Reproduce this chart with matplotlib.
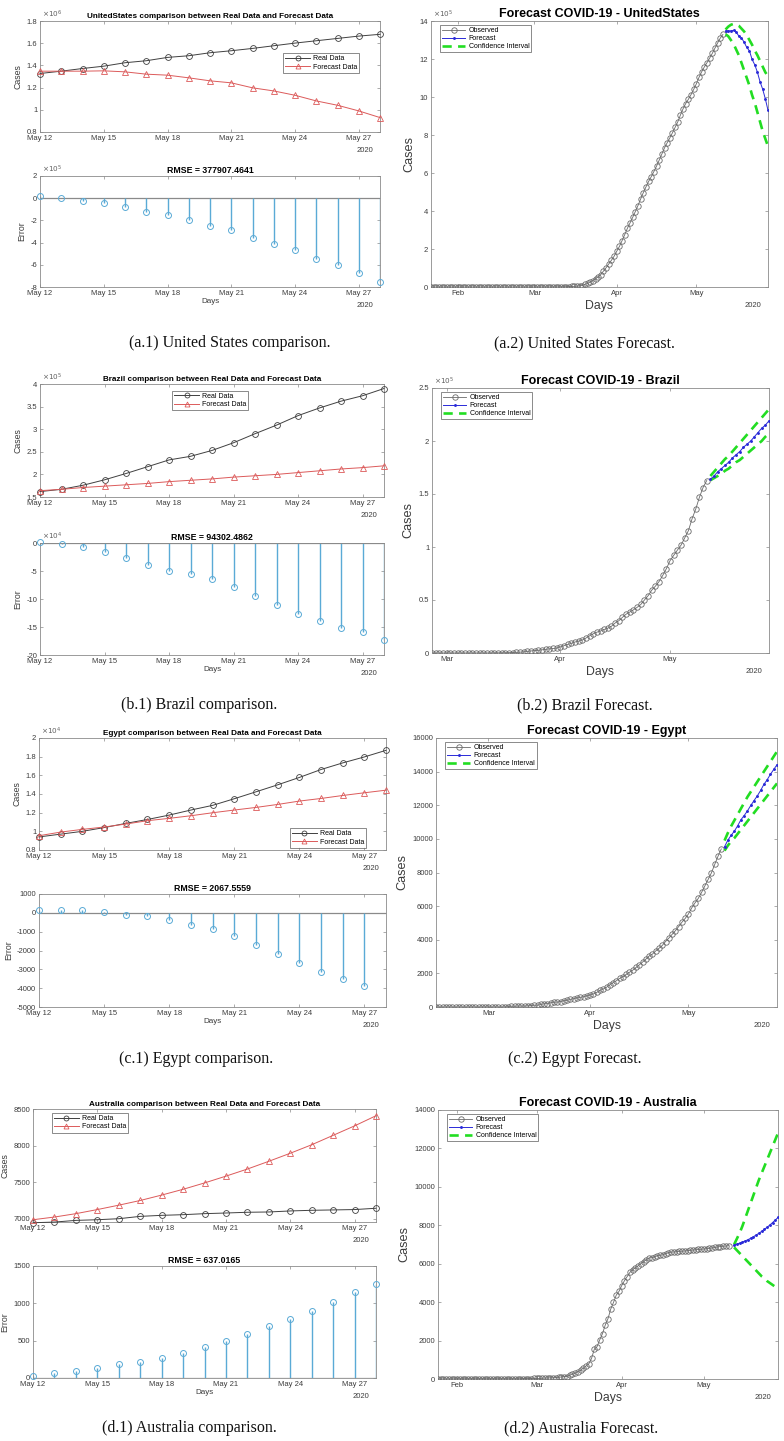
import numpy as np
import pandas as pd
import matplotlib
matplotlib.use('Agg')
import matplotlib.pyplot as plt
import matplotlib.dates as mdates
from matplotlib.ticker import FixedLocator, FuncFormatter

plt.rcParams['font.family'] = ['Liberation Sans', 'DejaVu Sans']

# ---------------------------------------------------------------- data
cmp_start = '2020-05-12'
fc_start = '2020-05-12'
x_end = '2020-05-28'

# United States comparison
us_real = [1.327e6, 1.348e6, 1.372e6, 1.393e6, 1.424e6, 1.442e6, 1.472e6, 1.487e6, 1.514e6,
           1.532e6, 1.553e6, 1.577e6, 1.601e6, 1.622e6, 1.643e6, 1.664e6, 1.680e6]
us_fc = [1.348e6, 1.348e6, 1.348e6, 1.351e6, 1.342e6, 1.321e6, 1.312e6, 1.288e6, 1.261e6,
         1.243e6, 1.198e6, 1.170e6, 1.131e6, 1.080e6, 1.041e6, 0.990e6, 0.930e6]
us_err = [0.17e5, 0.05e5, -0.25e5, -0.43e5, -0.8e5, -1.25e5, -1.55e5, -2.0e5, -2.5e5,
          -2.9e5, -3.55e5, -4.15e5, -4.7e5, -5.45e5, -6.05e5, -6.75e5, -7.55e5]
us_rmse = '377907.4641'

# Brazil comparison
br_real = [1.62e5, 1.67e5, 1.76e5, 1.88e5, 2.02e5, 2.17e5, 2.32e5, 2.40e5, 2.53e5,
           2.70e5, 2.90e5, 3.09e5, 3.30e5, 3.47e5, 3.62e5, 3.74e5, 3.90e5]
br_fc = [1.64e5, 1.67e5, 1.71e5, 1.74e5, 1.77e5, 1.80e5, 1.84e5, 1.87e5, 1.90e5,
         1.94e5, 1.97e5, 2.00e5, 2.04e5, 2.08e5, 2.12e5, 2.15e5, 2.19e5]
br_err = [0.2e4, -0.1e4, -0.8e4, -1.65e4, -2.65e4, -3.85e4, -5.05e4, -5.45e4, -6.45e4,
          -7.85e4, -9.45e4, -11.0e4, -12.7e4, -14.0e4, -15.1e4, -15.95e4, -17.3e4]
br_rmse = '94302.4862'

# Egypt comparison
eg_real = [9400, 9700, 10000, 10400, 10850, 11270, 11740, 12280, 12780,
           13490, 14230, 14980, 15770, 16620, 17330, 17970, 18680]
eg_fc = [9530, 9920, 10210, 10460, 10780, 11140, 11390, 11670, 11990,
         12280, 12560, 12880, 13240, 13520, 13840, 14130, 14410]
eg_err = [160, 160, 160, 35, -100, -160, -370, -620, -840,
          -1230, -1700, -2190, -2650, -3130, -3500, -3900]
eg_rmse = '2067.5559'

# Australia comparison
au_real = [6945, 6954, 6977, 6986, 7000, 7032, 7046, 7055, 7069,
           7078, 7088, 7092, 7106, 7115, 7120, 7125, 7143]
au_fc = [6986, 7023, 7069, 7125, 7185, 7249, 7323, 7402, 7489,
         7582, 7679, 7785, 7895, 8011, 8140, 8269, 8408]
au_err = [31, 67, 93, 134, 182, 218, 271, 338, 414,
          498, 583, 690, 792, 894, 1015, 1148, 1260]
au_rmse = '637.0165'

# Observed series for the forecast panels
us_obs_start = '2020-01-22'
us_obs = [1, 1, 2, 2, 5, 5, 5, 5, 5, 6,
          7, 8, 8, 11, 11, 11, 11, 11, 11, 11, 12, 12, 13, 13, 13, 13, 13, 13, 13, 13,
          15, 15, 15, 51, 51, 57, 58, 60, 68,
          68, 75, 100, 124, 158, 221, 319, 435, 541, 704, 994, 1301, 1630, 2183, 2770,
          3613, 4585, 6344, 7781, 13747, 19273, 25600, 33276, 43847, 53740, 65778,
          83836, 101657, 121465, 140909, 161831,
          188172, 213242, 243622, 275367, 308650, 336802, 366317, 397121, 428654,
          462780, 496535, 526396, 555313, 580619, 607670, 636350, 667801, 699706,
          732197, 759086, 784326, 811865, 840351, 869170, 905358, 938154, 965785,
          988197, 1012582, 1039909,
          1069424, 1103461, 1132539, 1158040, 1180375, 1204351, 1229331, 1257023,
          1283929, 1309550, 1329260]
us_ci_up = [13.55e5, 13.70e5, 13.80e5, 13.85e5, 13.82e5, 13.75e5, 13.60e5, 13.45e5, 13.25e5,
            13.00e5, 12.75e5, 12.45e5, 12.20e5, 11.90e5, 11.60e5, 11.30e5, 11.10e5]
us_ci_lo = [13.30e5, 13.20e5, 13.00e5, 12.80e5, 12.50e5, 12.20e5, 11.80e5, 11.40e5, 11.00e5,
            10.60e5, 10.10e5, 9.70e5, 9.20e5, 8.70e5, 8.20e5, 7.80e5, 7.40e5]

br_obs_start = '2020-02-26'
br_obs = [1, 1, 1, 1,
          2, 2, 2, 2, 4, 4, 13, 13, 20, 25, 31, 38, 52, 151, 151, 162, 200, 321, 372,
          621, 793, 1021, 1546, 1924, 2247, 2554, 2985, 3417, 3904, 4256, 4579,
          5717, 6836, 8044, 9056, 10360, 11130, 12161, 14034, 16170, 18092, 19638,
          20727, 22192, 23430, 25262, 28320, 30425, 33682, 36658, 38654, 40743, 43079,
          45757, 50036, 54043, 59324, 63100, 67446, 73235, 79685,
          87187, 92202, 97100, 101826, 108620, 115455, 126611, 135773, 146894,
          156061, 162699]
br_ci_up = [1.67e5, 1.71e5, 1.75e5, 1.79e5, 1.83e5, 1.86e5, 1.90e5, 1.94e5, 1.98e5,
            2.02e5, 2.06e5, 2.10e5, 2.14e5, 2.18e5, 2.22e5, 2.26e5, 2.30e5]
br_ci_lo = [1.63e5, 1.65e5, 1.67e5, 1.69e5, 1.72e5, 1.74e5, 1.77e5, 1.80e5, 1.82e5,
            1.85e5, 1.88e5, 1.91e5, 1.94e5, 1.97e5, 2.00e5, 2.04e5, 2.07e5]

eg_obs_start = '2020-02-14'
eg_obs = [1, 1, 1, 1, 1, 1, 1, 1, 1, 1, 1, 1, 1, 1, 1, 1,
          1, 2, 2, 2, 2, 3, 15, 48, 49, 55, 59, 60, 67, 80, 109, 110, 150, 196, 196,
          256, 285, 294, 327, 366, 402, 456, 495, 536, 576, 609, 656,
          710, 779, 865, 985, 1070, 1173, 1322, 1450, 1560, 1699, 1794, 1939, 2065,
          2190, 2350, 2505, 2673, 2844, 3032, 3144, 3333, 3490, 3659, 3891, 4092,
          4319, 4534, 4782, 5042, 5268,
          5537, 5895, 6193, 6465, 6813, 7201, 7588, 7981, 8476, 8964, 9400]
eg_ci_up = [9900, 10350, 10750, 11100, 11450, 11800, 12150, 12500, 12800,
            13100, 13400, 13700, 14000, 14300, 14600, 14900, 15200]
eg_ci_lo = [9300, 9600, 9850, 10050, 10300, 10550, 10800, 11050, 11300,
            11550, 11800, 12050, 12300, 12550, 12800, 13050, 13300]

au_obs_start = '2020-01-25'
au_obs = [4, 4, 5, 5, 6, 9, 9,
          12, 12, 12, 13, 14, 15, 15, 15, 15, 15, 15, 15, 15, 15, 15, 15, 15, 15, 15,
          15, 15, 15, 15, 15, 22, 22, 23, 25,
          27, 27, 30, 39, 52, 55, 60, 63, 76, 91, 107, 128, 128, 200, 250, 297, 377,
          452, 568, 681, 791, 1071, 1549, 1682, 2044, 2364, 2810, 3143, 3640, 3984, 4361,
          4559, 4862, 5116, 5330, 5550, 5687, 5797, 5895, 6010, 6108, 6215, 6303, 6315,
          6351, 6415, 6440, 6462, 6522, 6565, 6606, 6610, 6623, 6645, 6652, 6662, 6677,
          6694, 6714, 6721, 6744,
          6752, 6766, 6778, 6799, 6822, 6847, 6875, 6894, 6913, 6918, 6939]
au_ci_up = [7000, 7300, 7600, 7950, 8350, 8750, 9150, 9550, 9950,
            10350, 10700, 11050, 11400, 11750, 12100, 12450, 12800]
au_ci_lo = [6850, 6700, 6550, 6400, 6250, 6100, 5950, 5800, 5650,
            5500, 5350, 5250, 5100, 5000, 4900, 4800, 4700]

# ---------------------------------------------------------------- style
W, H = 784, 1441
fig = plt.figure(figsize=(W / 100, H / 100), dpi=100)
SP = '#8a8a8a'
TXT = '#3c3c3c'
C_REAL = '#404040'
C_FC = '#dc5a5a'
C_STEM = '#5aaad6'
C_OBS = '#6a6a6a'
C_BLUE = '#2a2ad8'
C_GREEN = '#22dd22'


def add_ax(l, t, r, b):
    return fig.add_axes([l / W, 1 - b / H, (r - l) / W, (b - t) / H])


def style(ax, fs=5.5):
    for s in ax.spines.values():
        s.set_color(SP)
        s.set_linewidth(0.6)
    ax.tick_params(direction='in', length=2.5, width=0.5, color=SP, labelsize=fs,
                   labelcolor=TXT, top=True, right=True, pad=2)


def yfmt(scale):
    def f(v, p):
        x = round(v / scale, 6)
        if abs(x) < 1e-9:
            return '0'
        return '%g' % x
    return FuncFormatter(f)


def exp_label(ax, e, fs=5.2):
    ax.text(0.005, 1.005, r'$\times10^{%d}$' % e, transform=ax.transAxes, fontsize=fs,
            color='#606060', ha='left', va='bottom')


def year_label(ax, dx=-11, dy=-13.5, fs=5.5):
    ax.annotate('2020', xy=(1, 0), xycoords='axes fraction', xytext=(dx, dy),
                textcoords='offset points', ha='center', va='center', fontsize=fs, color=TXT)


def cmp_xaxis(ax):
    ax.set_xlim(pd.Timestamp(cmp_start), pd.Timestamp(x_end))
    ax.xaxis.set_major_locator(mdates.DayLocator(bymonthday=[12, 15, 18, 21, 24, 27]))
    ax.xaxis.set_major_formatter(mdates.DateFormatter('%b %d'))
    year_label(ax)


def comp_top(box, real, fc, ylim, yticks, scale, e, title, leg_anchor):
    ax = add_ax(*box)
    d = pd.date_range(cmp_start, periods=len(real))
    ax.plot(d, real, '-o', color=C_REAL, mfc='none', ms=4.2, mew=0.6, lw=0.7,
            label='Real Data', clip_on=False, zorder=3)
    d2 = pd.date_range(cmp_start, periods=len(fc))
    ax.plot(d2, fc, '-^', color=C_FC, mfc='none', ms=4.2, mew=0.6, lw=0.7,
            label='Forecast Data', clip_on=False, zorder=3)
    ax.set_ylim(*ylim)
    ax.yaxis.set_major_locator(FixedLocator(yticks))
    ax.yaxis.set_major_formatter(yfmt(scale))
    if e:
        exp_label(ax, e)
    cmp_xaxis(ax)
    style(ax)
    ax.set_ylabel('Cases', fontsize=6.3, color=TXT, labelpad=3)
    ax.set_title(title, fontsize=5.9, fontweight='bold', pad=2.5)
    leg = ax.legend(loc='upper left', bbox_to_anchor=leg_anchor, fontsize=5.0,
                    frameon=True, fancybox=False, handlelength=3.6, borderpad=0.3,
                    labelspacing=0.2, borderaxespad=0, handletextpad=0.4, markerscale=0.85)
    leg.get_frame().set_edgecolor('#555555')
    leg.get_frame().set_linewidth(0.6)
    return ax


def comp_bot(box, err, ylim, yticks, scale, e, rmse):
    ax = add_ax(*box)
    d = pd.date_range(cmp_start, periods=len(err))
    ax.axhline(0, color='#8a8a8a', lw=0.9, zorder=1)
    ax.vlines(d, 0, err, colors=C_STEM, lw=1.0, zorder=2)
    ax.plot(d, err, 'o', mfc='none', mec=C_STEM, ms=4.3, mew=0.7, clip_on=False, zorder=3)
    ax.set_ylim(*ylim)
    ax.yaxis.set_major_locator(FixedLocator(yticks))
    ax.yaxis.set_major_formatter(yfmt(scale))
    if e:
        exp_label(ax, e)
    cmp_xaxis(ax)
    style(ax)
    ax.set_ylabel('Error', fontsize=6.3, color=TXT, labelpad=3)
    ax.set_xlabel('Days', fontsize=5.8, color=TXT, labelpad=1)
    ax.set_title('RMSE = ' + rmse, fontsize=6.3, fontweight='bold', pad=2.5)
    return ax


def fc_panel(box, obs_start, obs, fc, ci_up, ci_lo, ylim, yticks, scale, e, country):
    ax = add_ax(*box)
    d = pd.date_range(obs_start, periods=len(obs))
    ax.plot(d, obs, '-o', color=C_OBS, mfc='none', ms=3.9, mew=0.6, lw=0.6,
            label='Observed', zorder=3)
    df = pd.date_range(fc_start, periods=len(fc))
    ax.plot(df, fc, '.-', color=C_BLUE, ms=2.2, lw=0.7, label='Forecast', zorder=4)
    ax.plot(df, ci_up, '--', color=C_GREEN, lw=1.9, dashes=(3.5, 2.4),
            label='Confidence Interval', zorder=3)
    ax.plot(df, ci_lo, '--', color=C_GREEN, lw=1.9, dashes=(3.5, 2.4), zorder=3)
    ax.set_xlim(pd.Timestamp(obs_start), pd.Timestamp(x_end))
    ax.xaxis.set_major_locator(mdates.MonthLocator())
    ax.xaxis.set_major_formatter(mdates.DateFormatter('%b'))
    ax.set_ylim(*ylim)
    ax.yaxis.set_major_locator(FixedLocator(yticks))
    ax.yaxis.set_major_formatter(yfmt(scale))
    if e:
        exp_label(ax, e)
    style(ax)
    year_label(ax, dx=-11, dy=-13)
    ax.set_ylabel('Cases', fontsize=9.2, color=TXT, labelpad=3)
    ax.set_xlabel('Days', fontsize=8.8, color=TXT, labelpad=2)
    ax.set_title('Forecast COVID-19 - ' + country, fontsize=9.0, fontweight='bold', pad=3)
    leg = ax.legend(loc='upper left', bbox_to_anchor=(0.027, 0.985), fontsize=5.0,
                    frameon=True, fancybox=False, handlelength=3.3, borderpad=0.3,
                    labelspacing=0.15, borderaxespad=0, handletextpad=0.5)
    leg.get_frame().set_edgecolor('#555555')
    leg.get_frame().set_linewidth(0.6)
    return ax


# ---------------------------------------------------------------- panels
# (a) United States
comp_top((40, 21, 380, 132), us_real, us_fc, (0.8e6, 1.8e6),
         [0.8e6, 1.0e6, 1.2e6, 1.4e6, 1.6e6, 1.8e6], 1e6, 6,
         'UnitedStates comparison between Real Data and Forecast Data', (0.715, 0.71))
comp_bot((40, 176, 380, 287), us_err, (-8e5, 2e5),
         [-8e5, -6e5, -4e5, -2e5, 0, 2e5], 1e5, 5, us_rmse)
fc_panel((431, 21, 768, 287), us_obs_start, us_obs, us_fc, us_ci_up, us_ci_lo,
         (0, 14e5), [0, 2e5, 4e5, 6e5, 8e5, 10e5, 12e5, 14e5], 1e5, 5, 'UnitedStates')

# (b) Brazil
comp_top((40, 384, 384, 497), br_real, br_fc, (1.5e5, 4e5),
         [1.5e5, 2e5, 2.5e5, 3e5, 3.5e5, 4e5], 1e5, 5,
         'Brazil comparison between Real Data and Forecast Data', (0.384, 0.94))
comp_bot((40, 543, 384, 655), br_err, (-20e4, 0),
         [-20e4, -15e4, -10e4, -5e4, 0], 1e4, 4, br_rmse)
fc_panel((432, 388, 769, 653), br_obs_start, br_obs, br_fc, br_ci_up, br_ci_lo,
         (0, 2.5e5), [0, 0.5e5, 1e5, 1.5e5, 2e5, 2.5e5], 1e5, 5, 'Brazil')

# (c) Egypt
comp_top((39, 738, 386, 850), eg_real, eg_fc, (0.8e4, 2e4),
         [0.8e4, 1.0e4, 1.2e4, 1.4e4, 1.6e4, 1.8e4, 2.0e4], 1e4, 4,
         'Egypt comparison between Real Data and Forecast Data', (0.723, 0.196))
comp_bot((39, 894, 386, 1007), eg_err, (-5000, 1000),
         [-5000, -4000, -3000, -2000, -1000, 0, 1000], 1, 0, eg_rmse)
fc_panel((436, 738, 777, 1007), eg_obs_start, eg_obs, eg_fc, eg_ci_up, eg_ci_lo,
         (0, 16000), list(range(0, 16001, 2000)), 1, 0, 'Egypt')

# (d) Australia
comp_top((33, 1109, 376, 1222), au_real, au_fc, (6955, 8500),
         [7000, 7500, 8000, 8500], 1, 0,
         'Australia comparison between Real Data and Forecast Data', (0.055, 0.965))
comp_bot((33, 1266, 376, 1378), au_err, (0, 1500),
         [0, 500, 1000, 1500], 1, 0, au_rmse)
fc_panel((438, 1110, 778, 1379), au_obs_start, au_obs, au_fc, au_ci_up, au_ci_lo,
         (0, 14000), list(range(0, 14001, 2000)), 1, 0, 'Australia')

# ---------------------------------------------------------------- captions
captions = [
    ('(a.1) United States comparison.', 230, 343),
    ('(a.2) United States Forecast.', 584, 343),
    ('(b.1) Brazil comparison.', 199, 705),
    ('(b.2) Brazil Forecast.', 585, 705),
    ('(c.1) Egypt comparison.', 196, 1059),
    ('(c.2) Egypt Forecast.', 575, 1059),
    ('(d.1) Australia comparison.', 189, 1428),
    ('(d.2) Australia Forecast.', 581, 1428),
]
for txt, cx, cy in captions:
    fig.text(cx / W, 1 - cy / H, txt, ha='center', va='center', fontsize=11.5,
             family=['Liberation Serif', 'DejaVu Serif'], color='#111111')

fig.savefig('out.png', dpi=100)
